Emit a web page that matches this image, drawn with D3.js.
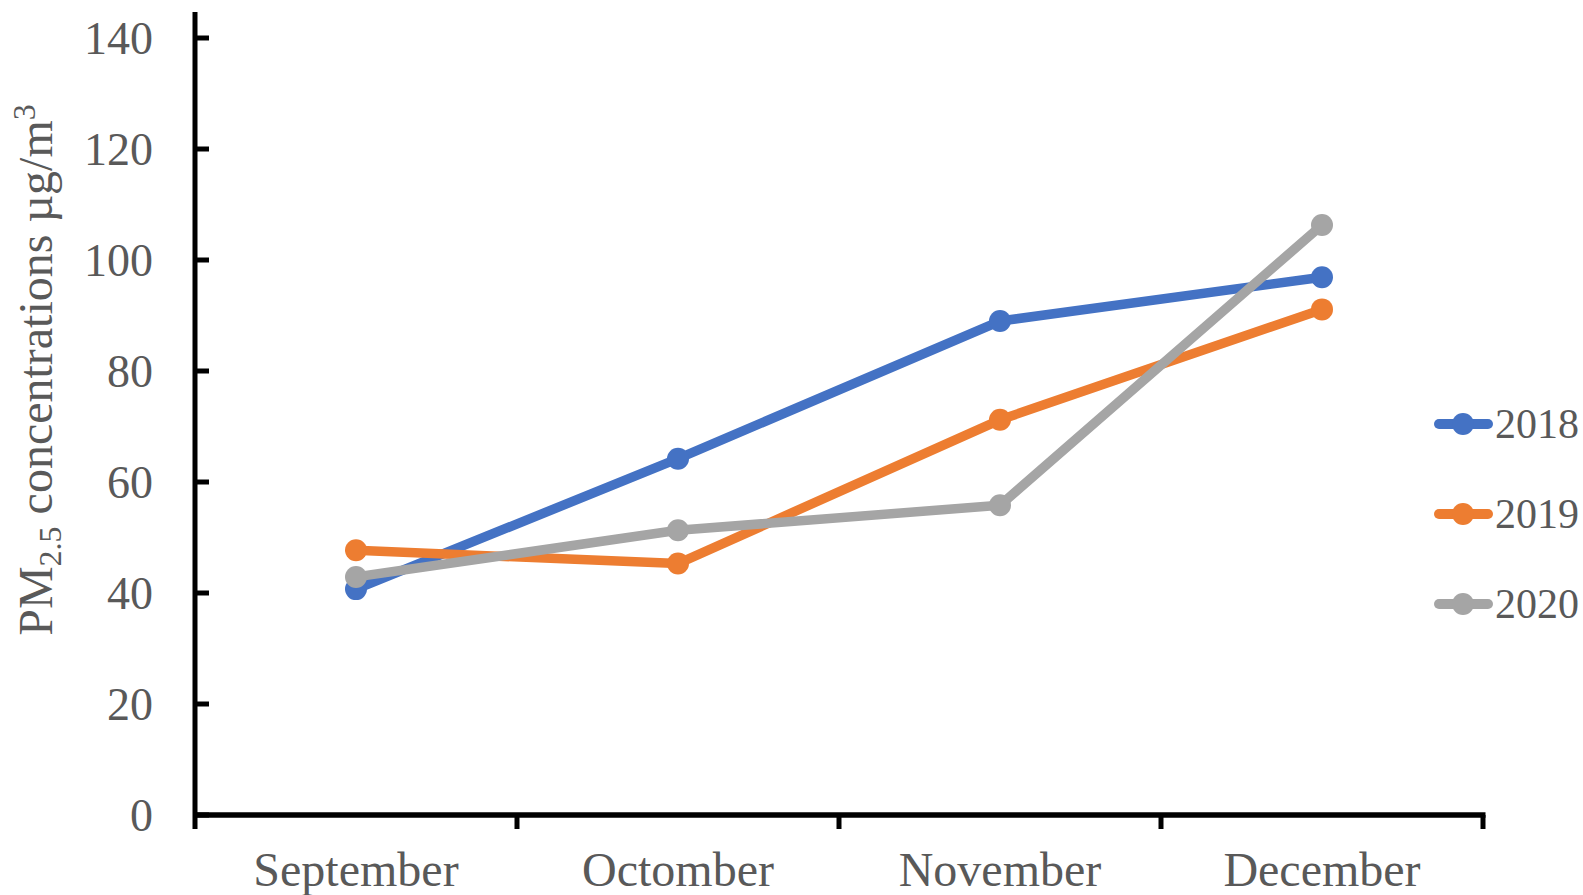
<!DOCTYPE html>
<html>
<head>
<meta charset="utf-8">
<script src="https://cdn.jsdelivr.net/npm/d3@7"></script>
<style>
  html, body { margin: 0; padding: 0; background: #fff; }
  svg { display: block; }
  text { font-family: "Liberation Serif", "Times New Roman", serif; fill: #595959; }
</style>
</head>
<body>
<svg id="chart" width="1583" height="895"></svg>
<script>
// Monthly mean PM2.5 concentrations (µg/m³)
const months = ["September", "Octomber", "November", "December"];
const years = ["2018", "2019", "2020"];
const values2018 = [40.7, 64.2, 89.0, 96.9];
const values2019 = [47.7, 45.3, 71.2, 91.1];
const values2020 = [42.9, 51.3, 55.8, 106.3];
const yTicks = [0, 20, 40, 60, 80, 100, 120, 140];
const colors = ["#4472C4", "#ED7D31", "#A5A5A5"];

const series = [
  { name: years[0], values: values2018, color: colors[0] },
  { name: years[1], values: values2019, color: colors[1] },
  { name: years[2], values: values2020, color: colors[2] }
];

(function draw() {
  const svg = d3.select("#chart");
  const plotLeft = 195, plotRight = 1483, plotTop = 38, plotBottom = 815;

  const x = d3.scaleBand().domain(months).range([plotLeft, plotRight]).padding(0);
  const y = d3.scaleLinear().domain([0, 140]).range([plotBottom, plotTop]);
  const cx = m => x(m) + x.bandwidth() / 2;

  // Y axis: line, inward ticks, labels
  const yAxis = svg.append("g");
  yAxis.append("line")
    .attr("x1", plotLeft).attr("x2", plotLeft)
    .attr("y1", 12).attr("y2", plotBottom + 14)
    .attr("stroke", "#000").attr("stroke-width", 5);
  yAxis.selectAll("line.tick").data(yTicks).join("line")
    .attr("class", "tick")
    .attr("x1", plotLeft).attr("x2", plotLeft + 14)
    .attr("y1", d => y(d)).attr("y2", d => y(d))
    .attr("stroke", "#000").attr("stroke-width", 5);
  yAxis.selectAll("text").data(yTicks).join("text")
    .attr("x", 153).attr("y", d => y(d))
    .attr("text-anchor", "end")
    .attr("dominant-baseline", "central")
    .attr("font-size", 46)
    .text(d => d);

  // X axis: line, outward ticks at category boundaries, labels
  const xAxis = svg.append("g");
  xAxis.append("line")
    .attr("x1", plotLeft).attr("x2", plotRight + 2.5)
    .attr("y1", plotBottom).attr("y2", plotBottom)
    .attr("stroke", "#000").attr("stroke-width", 5.5);
  const bounds = months.map(m => x(m)).concat([plotRight]);
  xAxis.selectAll("line.tick").data(bounds.slice(1)).join("line")
    .attr("class", "tick")
    .attr("x1", d => d).attr("x2", d => d)
    .attr("y1", plotBottom).attr("y2", plotBottom + 14)
    .attr("stroke", "#000").attr("stroke-width", 5);
  xAxis.selectAll("text").data(months).join("text")
    .attr("x", d => cx(d)).attr("y", 886)
    .attr("text-anchor", "middle")
    .attr("font-size", 48)
    .text(d => d);

  // Y axis title with subscript and superscript
  const title = svg.append("text")
    .attr("transform", "translate(52,370) rotate(-90)")
    .attr("text-anchor", "middle")
    .attr("font-size", 48);
  title.append("tspan").text("PM");
  title.append("tspan").attr("font-size", 32).attr("dy", 9).text("2.5");
  title.append("tspan").attr("dy", -9).text(" concentrations µg/m");
  title.append("tspan").attr("font-size", 32).attr("dy", -17).text("3");

  // Series lines and markers
  const line = d3.line().x((d, i) => cx(months[i])).y(d => y(d));
  const plot = svg.append("g");
  series.forEach(s => {
    plot.append("path")
      .attr("d", line(s.values))
      .attr("fill", "none")
      .attr("stroke", s.color)
      .attr("stroke-width", 9.5)
      .attr("stroke-linejoin", "round")
      .attr("stroke-linecap", "round");
    plot.selectAll(null).data(s.values).join("circle")
      .attr("cx", (d, i) => cx(months[i]))
      .attr("cy", d => y(d))
      .attr("r", 11)
      .attr("fill", s.color);
  });

  // Legend
  const legend = svg.append("g");
  const legendY = [424, 514, 604];
  series.forEach((s, i) => {
    const g = legend.append("g").attr("transform", `translate(0,${legendY[i]})`);
    g.append("line")
      .attr("x1", 1439).attr("x2", 1488)
      .attr("y1", 0).attr("y2", 0)
      .attr("stroke", s.color).attr("stroke-width", 10)
      .attr("stroke-linecap", "round");
    g.append("circle").attr("cx", 1463).attr("cy", 0).attr("r", 11).attr("fill", s.color);
    g.append("text")
      .attr("x", 1495).attr("y", 0)
      .attr("dominant-baseline", "central")
      .attr("font-size", 42)
      .text(s.name);
  });
})();
</script>
</body>
</html>
